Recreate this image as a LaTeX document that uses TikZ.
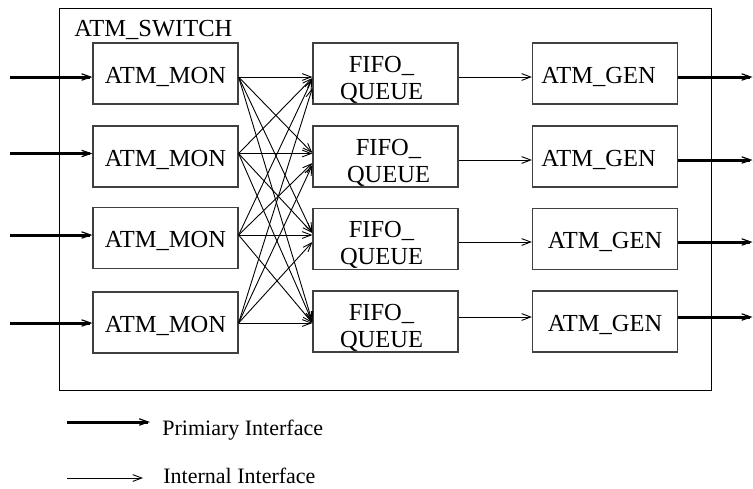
\documentclass[tikz,border=0pt]{standalone}
\usepackage{fontspec}
\setmainfont{Liberation Serif}
\usetikzlibrary{arrows.meta}
\begin{document}
\begin{tikzpicture}[x=0.5pt,y=-0.5pt,
  box/.style={draw=black!75,line width=0.6pt,minimum width=72.5pt,minimum height=30.5pt,inner sep=0pt,
    font=\fontsize{12.25}{13.5}\selectfont},
  blk/.style={box,text height=9.5pt,text depth=0pt},
  thin/.style={line width=0.45pt,-{Straight Barb[length=4.5pt,width=3.4pt,line width=0.45pt]}},
  thick/.style={line width=1.5pt,-{Straight Barb[length=4.5pt,width=3.2pt,line width=0.6pt]}},
  lbl/.style={font=\fontsize{11}{12}\selectfont,anchor=base west,inner sep=0pt}]
\newcommand\fq[1]{\hspace*{#1}\raisebox{-3.3pt}[\height][\depth]{\begin{tabular}{@{}c@{}}FIFO\_\\QUEUE\end{tabular}}}
\useasboundingbox (0,0) rectangle (753,488);
\draw[line width=0.5pt] (59.5,8) rectangle (711.5,390);
\node[anchor=base west,inner sep=0pt,font=\fontsize{12.25}{13.5}\selectfont] (title) at (74,36) {ATM\_SWITCH};
\foreach \i/\y in {1/73.5,2/156.5,3/238,4/322.5}{
  \node[blk] (mon\i) at (165.5,\y) {ATM\_MON};
}
\node[box] (fifo1) at (385.5,73.5) {\fq{-4pt}};
\node[box] (fifo2) at (385.5,156.5) {\fq{3pt}};
\node[box] (fifo3) at (385.5,239) {\fq{-4pt}};
\node[box] (fifo4) at (385.5,321.5) {\fq{-4pt}};
\node[blk] (gen1) at (605,73.5) {ATM\_GEN\hspace*{6.5pt}};
\node[blk] (gen2) at (605,156.5) {ATM\_GEN\hspace*{6.5pt}};
\node[blk] (gen3) at (605,239) {ATM\_GEN};
\node[blk] (gen4) at (605,321.5) {ATM\_GEN};
% inputs
\foreach \i/\y in {1/77,2/153.5,3/235,4/323}{
  \coordinate (in\i) at (10,\y);
  \draw[thick] (in\i) -- (mon\i.west |- in\i);
  \coordinate (s\i) at (mon\i.east |- in\i);
}
% crossbar
\foreach \i/\j/\ty in {1/1/77,2/1/78,3/1/79,4/1/88,
                       1/2/153,2/2/153.5,3/2/163,4/2/165,
                       1/3/233,2/3/233,3/3/235,4/3/242,
                       1/4/322,2/4/322,3/4/323,4/4/323}{
  \coordinate (t\i\j) at (fifo\j.west |- 0,\ty);
  \draw[thin] (s\i) -- (t\i\j);
}
% fifo to gen and outputs
\foreach \i/\y in {1/77,2/160,3/242,4/317}{
  \coordinate (out\i) at (752.5,\y);
  \draw[thin] (fifo\i.east |- out\i) -- (gen\i.west |- out\i);
  \draw[thick] (gen\i.east |- out\i) -- (out\i);
}
% legend
\coordinate (l1a) at (67,422);
\coordinate (l1b) at (150,422);
\coordinate (l2a) at (67,478);
\coordinate (l2b) at (143,478);
\draw[thick] (l1a) -- (l1b);
\draw[thin] (l2a) -- (l2b);
\node[lbl] (t1) at (162,435) {Primiary Interface};
\node[lbl] (t2) at (163,483) {Internal Interface};
\end{tikzpicture}
\end{document}
